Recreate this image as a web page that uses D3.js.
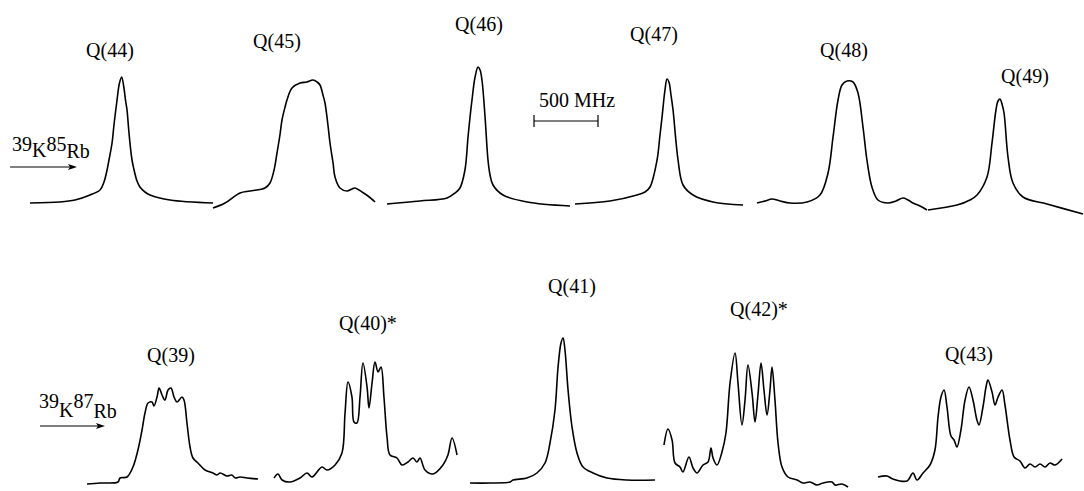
<!DOCTYPE html>
<html>
<head>
<meta charset="utf-8">
<script src="https://cdn.jsdelivr.net/npm/d3@7"></script>
<style>
  html, body { margin: 0; padding: 0; background: #fff; }
  svg { display: block; }
  text { font-family: "Liberation Serif", "Times New Roman", serif; font-size: 20px; fill: #000; }
</style>
</head>
<body>
<svg id="chart" width="1084" height="491"></svg>
<script>
// ---------------- DATA ----------------
// Frequency offsets (MHz, from each scan's start) and signal (arb. units)
// 39K85Rb band (top row)
const q44Freq   = [0,234,352,469,547,578,602,617,641,656,680,699,716,734,746,758,770,781,797,813,836,859,898,938,1094,1430];
const q44Signal = [12,13,15,20,25,33,45,55,72,90,115,132,138,127,115,105,87,72,55,45,34,28,23,20,15,12];

const q45Freq   = [0,94,211,289,406,445,477,500,523,539,563,578,617,680,734,781,813,836,859,875,898,914,938,953,992,1047,1086,1109,1164,1211,1266];
const q45Signal = [7,12,22,24,27,32,45,62,80,95,108,115,127,132,133,135,133,130,120,112,90,72,52,38,27,24,26,27,23,19,13];

const q46Freq   = [0,258,469,531,570,609,633,648,664,688,711,727,742,766,789,805,828,906,1094,1430];
const q46Signal = [11,14,17,22,27,45,78,97,115,138,148,145,135,98,55,40,30,20,13,9];

const q47Freq   = [0,273,484,547,586,641,664,680,703,719,734,750,766,805,844,922,1078,1313];
const q47Signal = [11,14,20,23,28,55,80,98,125,136,133,120,105,55,30,20,13,10];

const q48Freq   = [0,63,117,180,258,391,492,555,594,633,664,703,750,789,828,859,898,945,1023,1086,1141,1180,1219,1273,1328];
const q48Signal = [12,14,16,14,12,13,20,42,78,115,130,134,133,122,88,55,28,15,12,14,17,15,12,9,5];

const q49Freq   = [0,227,328,383,461,500,531,547,563,578,594,625,664,742,930,1211];
const q49Signal = [5,10,15,20,38,72,105,114,116,111,102,58,32,18,11,1];

// 39K87Rb band (bottom row)
const q39Freq   = [0,102,242,258,313,359,398,430,453,477,508,523,547,563,586,609,633,656,680,703,742,758,781,805,828,867,922,984,1016,1040,1094,1130,1160,1195,1250,1336];
const q39Signal = [6,7,8,12,13,23,40,60,77,87,88,84,93,102,95,90,100,102,93,88,93,90,67,43,32,27,20,17,15,17,14,15,12,13,12,11];

const q40Freq   = [0,31,63,125,203,258,297,375,414,477,531,555,578,609,625,648,672,695,727,742,766,789,813,836,859,883,906,961,1000,1047,1086,1117,1141,1180,1242,1320,1359,1391,1430];
const q40Signal = [12,16,10,8,12,17,13,23,20,25,37,77,108,93,68,67,93,127,103,82,107,128,118,123,93,53,35,32,25,28,32,28,32,20,16,25,35,52,35];

const q41Freq   = [0,156,313,336,445,523,586,625,664,688,711,727,742,766,797,836,883,961,1070,1227,1445];
const q41Signal = [7,7,8,10,12,17,27,47,80,123,147,152,140,100,63,37,23,17,12,10,10];

const q42Freq   = [0,31,63,86,125,148,195,227,258,305,344,367,383,414,453,484,516,555,578,609,633,656,688,711,734,758,781,805,828,844,867,891,922,969,1039,1086,1141,1195,1242,1313,1336,1391,1438];
const q42Signal = [45,61,50,27,23,18,33,22,17,25,28,42,32,25,38,57,107,137,107,65,90,125,97,68,95,127,100,75,100,123,90,47,23,13,10,7,8,5,7,8,5,6,3];

const q43Freq   = [0,70,117,227,273,305,352,406,445,469,492,516,539,570,594,617,648,680,711,742,773,789,820,844,859,891,914,938,969,992,1031,1063,1109,1148,1188,1227,1266,1305,1344,1383,1438];
const q43Signal = [13,14,11,9,17,10,17,25,40,73,93,100,83,54,50,43,60,90,103,90,70,65,83,103,110,98,85,93,100,85,50,33,29,22,26,23,26,23,27,25,31];

const topLabels    = ["Q(44)","Q(45)","Q(46)","Q(47)","Q(48)","Q(49)"];
const bottomLabels = ["Q(39)","Q(40)*","Q(41)","Q(42)*","Q(43)"];
const scaleBarMHz  = 500;
const scaleBarText = "500 MHz";

// ---------------- LAYOUT ----------------
const topTraces    = [[q44Freq,q44Signal],[q45Freq,q45Signal],[q46Freq,q46Signal],[q47Freq,q47Signal],[q48Freq,q48Signal],[q49Freq,q49Signal]];
const bottomTraces = [[q39Freq,q39Signal],[q40Freq,q40Signal],[q41Freq,q41Signal],[q42Freq,q42Signal],[q43Freq,q43Signal]];

const layout = {
  pxPer500: 64,
  top:    { x0: [30,213,387,575,757,928], base: 215,
            labelX: [110,277,479,654,844,1025], labelY: [57,48,31,41,57,83] },
  bottom: { x0: [87,274,470,664,878], base: 490,
            labelX: [171,368,572,759,969], labelY: [362,330,293,316,361] }
};

const svg = d3.select("#chart");

function drawRow(row, traces, labels) {
  const yScale = d3.scaleLinear().domain([0, 150]).range([row.base, row.base - 150]);
  traces.forEach(([freq, sig], i) => {
    const xScale = d3.scaleLinear().domain([0, scaleBarMHz]).range([row.x0[i], row.x0[i] + layout.pxPer500]);
    const line = d3.line()
      .x(d => xScale(d[0]))
      .y(d => yScale(d[1]))
      .curve(d3.curveCatmullRom.alpha(0.5));
    svg.append("path")
      .datum(freq.map((f, k) => [f, sig[k]]))
      .attr("d", line)
      .attr("fill", "none")
      .attr("stroke", "#000")
      .attr("stroke-width", 1.6)
      .attr("stroke-linejoin", "round");
    svg.append("text")
      .attr("x", row.labelX[i])
      .attr("y", row.labelY[i])
      .attr("text-anchor", "middle")
      .text(labels[i]);
  });
}

drawRow(layout.top, topTraces, topLabels);
drawRow(layout.bottom, bottomTraces, bottomLabels);

// Scale bar (500 MHz) using the same frequency scale
const sbScale = d3.scaleLinear().domain([0, scaleBarMHz]).range([534, 534 + layout.pxPer500]);
const sb = svg.append("g").attr("stroke", "#000").attr("stroke-width", 1.2);
sb.append("line").attr("x1", sbScale(0)).attr("x2", sbScale(scaleBarMHz)).attr("y1", 121).attr("y2", 121);
sb.append("line").attr("x1", sbScale(0)).attr("x2", sbScale(0)).attr("y1", 115).attr("y2", 127);
sb.append("line").attr("x1", sbScale(scaleBarMHz)).attr("x2", sbScale(scaleBarMHz)).attr("y1", 115).attr("y2", 127);
svg.append("text").attr("x", 539).attr("y", 107).text(scaleBarText);

// Isotopologue labels with arrows
function isoLabel(x, y, a, b, raise, arrowY, ax1, ax2) {
  const t = svg.append("text").attr("x", x).attr("y", y);
  t.append("tspan").attr("dy", -raise).text(a[0]);
  t.append("tspan").attr("dy", raise).text(a[1]);
  t.append("tspan").attr("dy", -raise).text(b[0]);
  t.append("tspan").attr("dy", raise + 1).text(b[1]);
  svg.append("line").attr("x1", ax1).attr("x2", ax2 - 6).attr("y1", arrowY).attr("y2", arrowY)
    .attr("stroke", "#000").attr("stroke-width", 1.2);
  svg.append("path")
    .attr("d", `M${ax2},${arrowY} L${ax2 - 9},${arrowY - 3} L${ax2 - 7},${arrowY} L${ax2 - 9},${arrowY + 3} Z`)
    .attr("fill", "#000");
}
isoLabel(12, 157, ["39", "K"], ["85", "Rb"], 6.5, 167, 10, 77);
isoLabel(39, 417, ["39", "K"], ["87", "Rb"], 9, 426, 40, 105);
</script>
</body>
</html>
